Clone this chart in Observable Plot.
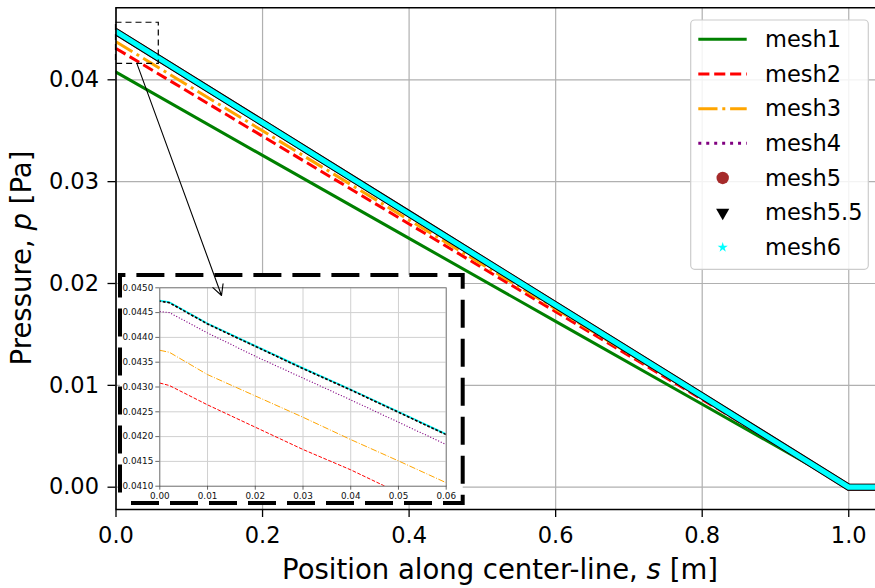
<!DOCTYPE html>
<html>
<head>
<meta charset="utf-8">
<script src="https://cdn.jsdelivr.net/npm/d3@7"></script>
<script src="https://cdn.jsdelivr.net/npm/@observablehq/plot@0.6"></script>
<style>
  html, body { margin: 0; padding: 0; background: #fff; }
  #chart { width: 875px; height: 588px; position: relative; }
</style>
</head>
<body>
<div id="chart"></div>
<script>
// ---------------- data ----------------
const seriesNames  = ["mesh1", "mesh2", "mesh3", "mesh4", "mesh5", "mesh5.5", "mesh6"];
const seriesColors = ["#008000", "#ff0000", "#ffa500", "#800080", "#a52a2a", "#000000", "#00ffff"];

// main plot: position along center-line s [m] and pressure p [Pa]
const sMain      = [0, 0.2, 0.4, 0.6, 0.8, 1.0, 1.04];
const mesh1Main  = [0.04075, 0.03258, 0.02443, 0.01628, 0.00814, 0, 0];
const mesh2Main  = [0.04308, 0.03446, 0.02585, 0.01723, 0.00862, 0, 0];
const mesh3Main  = [0.04374, 0.03499, 0.02624, 0.01750, 0.00875, 0, 0];
const mesh4Main  = [0.04452, 0.03562, 0.02671, 0.01781, 0.00890, 0, 0];
const mesh5Main  = [0.04473, 0.03578, 0.02684, 0.01789, 0.00895, 0, 0];
const mesh55Main = [0.04473, 0.03578, 0.02684, 0.01789, 0.00895, 0, 0];
const mesh6Main  = [0.04473, 0.03578, 0.02684, 0.01789, 0.00895, 0, 0];

// inset (zoom on 0 <= s <= 0.06)
const sInset      = [0, 0.002, 0.01, 0.02, 0.03, 0.04, 0.05, 0.06];
const mesh1Inset  = [0.04075, 0.04067, 0.04034, 0.03993, 0.03952, 0.03912, 0.03871, 0.03830];
const mesh2Inset  = [0.04308, 0.04303, 0.04264, 0.04219, 0.04174, 0.04133, 0.04087, 0.04042];
const mesh3Inset  = [0.04374, 0.04370, 0.04325, 0.04282, 0.04239, 0.04194, 0.04151, 0.04107];
const mesh4Inset  = [0.04452, 0.04450, 0.04409, 0.04362, 0.04318, 0.04274, 0.04229, 0.04184];
const mesh5Inset  = [0.04473, 0.04470, 0.04427, 0.04382, 0.04337, 0.04294, 0.04249, 0.04204];
const mesh55Inset = [0.04473, 0.04470, 0.04427, 0.04382, 0.04337, 0.04294, 0.04249, 0.04204];
const mesh6Inset  = [0.04474, 0.04471, 0.04428, 0.04383, 0.04338, 0.04295, 0.04250, 0.04205];

// ticks
const xTicksMain  = [0, 0.2, 0.4, 0.6, 0.8, 1.0];
const yTicksMain  = [0, 0.01, 0.02, 0.03, 0.04];
const xTicksInset = [0, 0.01, 0.02, 0.03, 0.04, 0.05, 0.06];
const yTicksInset = [0.041, 0.0415, 0.042, 0.0425, 0.043, 0.0435, 0.044, 0.0445, 0.045];

// annotation (in data units of the main plot)
const zoomBoxS = [0, 0.0584];
const zoomBoxP = [0.04157, 0.0456];
const arrowS = [0.0287, 0.144];
const arrowP = [0.04157, 0.01882];

// ---------------- helpers ----------------
const FONT = "DejaVu Sans";
const rows = (s, p, name) => s.map((x, i) => ({s: x, p: p[i], series: name}));
const mainSets  = [mesh1Main, mesh2Main, mesh3Main, mesh4Main, mesh5Main, mesh55Main, mesh6Main];
const insetSets = [mesh1Inset, mesh2Inset, mesh3Inset, mesh4Inset, mesh5Inset, mesh55Inset, mesh6Inset];
const mainData  = mainSets.map((arr, i) => rows(sMain, arr, seriesNames[i]));
const insetData = insetSets.map((arr, i) => rows(sInset, arr, seriesNames[i]));

// ---------------- main plot ----------------
const mainX = [0, 1.0365];
const mainY = [-0.00219, 0.04707];

const main = Plot.plot({
  width: 875,
  height: 588,
  marginLeft: 115.5,
  marginRight: 0,
  marginTop: 7.3,
  marginBottom: 79,
  style: {fontFamily: FONT, background: "white", color: "black"},
  x: {domain: mainX},
  y: {domain: mainY},
  marks: [
    Plot.gridX(xTicksMain, {stroke: "#b0b0b0", strokeOpacity: 1, strokeWidth: 1.2}),
    Plot.gridY(yTicksMain, {stroke: "#b0b0b0", strokeOpacity: 1, strokeWidth: 1.2}),
    Plot.line(mainData[0], {x: "s", y: "p", stroke: seriesColors[0], strokeWidth: 3, clip: true}),
    Plot.line(mainData[1], {x: "s", y: "p", stroke: seriesColors[1], strokeWidth: 3, strokeDasharray: "11.1,4.8", strokeLinecap: "butt", clip: true}),
    Plot.line(mainData[2], {x: "s", y: "p", stroke: seriesColors[2], strokeWidth: 3, strokeDasharray: "19.2,4.8,3,4.8", strokeLinecap: "butt", clip: true}),
    Plot.line(mainData[3], {x: "s", y: "p", stroke: seriesColors[3], strokeWidth: 3, strokeDasharray: "3,4.95", strokeLinecap: "butt", clip: true}),
    Plot.line(mainData[4], {x: "s", y: "p", stroke: seriesColors[4], strokeWidth: 7, clip: true}),
    Plot.line(mainData[5], {x: "s", y: "p", stroke: seriesColors[5], strokeWidth: 7, clip: true}),
    Plot.line(mainData[6], {x: "s", y: "p", stroke: seriesColors[6], strokeWidth: 5.2, clip: true}),
    Plot.rect([0], {x1: () => zoomBoxS[0], x2: () => zoomBoxS[1], y1: () => zoomBoxP[0], y2: () => zoomBoxP[1],
      fill: "none", stroke: "black", strokeWidth: 1.2, strokeDasharray: "6,4"}),
    Plot.arrow([0], {x1: () => arrowS[0], y1: () => arrowP[0], x2: () => arrowS[1], y2: () => arrowP[1],
      stroke: "black", strokeWidth: 1.1, headLength: 16, headAngle: 55}),
    Plot.ruleX([mainX[0]], {stroke: "black", strokeWidth: 1.6}),
    Plot.ruleY([mainY[0]], {stroke: "black", strokeWidth: 1.6}),
    Plot.ruleY([mainY[1]], {stroke: "black", strokeWidth: 1.6}),
    Plot.axisX({ticks: xTicksMain, tickFormat: d3.format(".1f"), tickSize: 8, tickPadding: 9.5,
      fontSize: 22.5, label: null, strokeWidth: 1.3, fill: "black"}),
    Plot.axisY({ticks: yTicksMain, tickFormat: d3.format(".2f"), tickSize: 8, tickPadding: 9,
      fontSize: 22.5, label: null, strokeWidth: 1.3, fill: "black"})
  ]
});

// ---------------- inset plot ----------------
const insetX = [0, 0.06];
const insetY = [0.041, 0.045];
const inset = Plot.plot({
  width: 350,
  height: 236,
  marginLeft: 43.3,
  marginRight: 20.3,
  marginTop: 16.3,
  marginBottom: 21.3,
  style: {fontFamily: FONT, color: "black"},
  x: {domain: insetX},
  y: {domain: insetY},
  marks: [
    Plot.gridX(xTicksInset, {stroke: "#d0d0d0", strokeOpacity: 1, strokeWidth: 1}),
    Plot.gridY(yTicksInset, {stroke: "#d0d0d0", strokeOpacity: 1, strokeWidth: 1}),
    Plot.line(insetData[0], {x: "s", y: "p", stroke: seriesColors[0], strokeWidth: 1.2, clip: true}),
    Plot.line(insetData[1], {x: "s", y: "p", stroke: seriesColors[1], strokeWidth: 1, strokeDasharray: "3.7,1.6", strokeLinecap: "butt", clip: true}),
    Plot.line(insetData[2], {x: "s", y: "p", stroke: seriesColors[2], strokeWidth: 1, strokeDasharray: "6.4,1.6,1,1.6", strokeLinecap: "butt", clip: true}),
    Plot.line(insetData[3], {x: "s", y: "p", stroke: seriesColors[3], strokeWidth: 1.1, strokeDasharray: "1.1,1.8", strokeLinecap: "butt", clip: true}),
    Plot.line(insetData[6], {x: "s", y: "p", stroke: seriesColors[6], strokeWidth: 1.8, clip: true}),
    Plot.line(insetData[4], {x: "s", y: "p", stroke: seriesColors[4], strokeWidth: 1.5, strokeDasharray: "1.5,3", strokeLinecap: "butt", clip: true}),
    Plot.line(insetData[5], {x: "s", y: "p", stroke: seriesColors[5], strokeWidth: 1.5, strokeDasharray: "2.5,2", strokeDashoffset: 1.5, strokeLinecap: "butt", clip: true}),
    Plot.frame({stroke: "#666", strokeWidth: 0.8}),
    Plot.axisX({ticks: xTicksInset, tickFormat: d3.format(".2f"), tickSize: 4, tickPadding: 3,
      fontSize: 8.8, label: null, stroke: "#444", strokeWidth: 0.8, fill: "#111"}),
    Plot.axisY({ticks: yTicksInset, tickFormat: d3.format(".4f"), tickSize: 4, tickPadding: 2.5,
      fontSize: 8.8, label: null, stroke: "#444", strokeWidth: 0.8, fill: "#111"})
  ]
});

// move inset contents into a translated group inside the main svg (below the arrow)
const NS = "http://www.w3.org/2000/svg";
const insetG = document.createElementNS(NS, "g");
insetG.setAttribute("transform", "translate(116,271)");
for (const a of ["class", "fill", "font-family", "font-size", "text-anchor", "style"]) {
  const v = inset.getAttribute(a);
  if (v != null) insetG.setAttribute(a, v);
}
// white background with thick dashed border
const bx0 = 4, bx1 = 346.7, by0 = 4, by1 = 232;
const bg = document.createElementNS(NS, "path");
bg.setAttribute("d", `M${bx0},${by1}L${bx1},${by1}L${bx1},${by0}L${bx0},${by0}Z`);
bg.setAttribute("fill", "white");
bg.setAttribute("stroke", "black");
bg.setAttribute("stroke-width", "4");
bg.setAttribute("stroke-dasharray", "28,11");
bg.setAttribute("stroke-dashoffset", "-11");
insetG.appendChild(bg);
while (inset.firstChild) insetG.appendChild(inset.firstChild);
const arrowNode = main.querySelector('[aria-label="arrow"]');
if (arrowNode) main.insertBefore(insetG, arrowNode); else main.appendChild(insetG);

// ---------------- axis labels ----------------
const svg = d3.select(main);
const xl = svg.append("text")
  .attr("x", 500).attr("y", 579.3)
  .attr("text-anchor", "middle").attr("font-family", FONT).attr("font-size", 27.5).attr("fill", "black");
xl.append("tspan").text("Position along center-line, ");
xl.append("tspan").attr("font-style", "italic").text("s");
xl.append("tspan").text(" [m]");

const yl = svg.append("text")
  .attr("transform", "translate(30.5,258) rotate(-90)")
  .attr("text-anchor", "middle").attr("font-family", FONT).attr("font-size", 27.5).attr("fill", "black");
yl.append("tspan").text("Pressure, ");
yl.append("tspan").attr("font-style", "italic").text("p");
yl.append("tspan").text(" [Pa]");

// ---------------- legend ----------------
const lg = svg.append("g").attr("font-family", FONT).attr("font-size", 22.5).attr("text-anchor", "start");
lg.append("rect")
  .attr("x", 690.7).attr("y", 20).attr("width", 177.6).attr("height", 249.3).attr("rx", 4)
  .attr("fill", "white").attr("fill-opacity", 0.85).attr("stroke", "#cccccc").attr("stroke-width", 1.2);
const lineStyles = [null, "11.1,4.8", "19.2,4.8,3,4.8", "3,4.95"];
seriesNames.forEach((name, i) => {
  const cy = 39.3 + i * 34.67;
  const x0 = 698.3, x1 = 746.7, xm = 722.7;
  if (i < 4) {
    const l = lg.append("line").attr("x1", x0).attr("x2", x1).attr("y1", cy).attr("y2", cy)
      .attr("stroke", seriesColors[i]).attr("stroke-width", 3);
    if (lineStyles[i]) l.attr("stroke-dasharray", lineStyles[i]);
  } else if (i === 4) {
    lg.append("circle").attr("cx", xm).attr("cy", cy).attr("r", 6.2).attr("fill", seriesColors[i]);
  } else if (i === 5) {
    lg.append("path").attr("d", d3.symbol(d3.symbolTriangle, 75)())
      .attr("transform", `translate(${xm},${cy}) rotate(180)`).attr("fill", seriesColors[i]);
  } else {
    lg.append("path").attr("d", d3.symbol(d3.symbolStar, 32)())
      .attr("transform", `translate(${xm},${cy})`).attr("fill", seriesColors[i]);
  }
  lg.append("text").attr("x", 765).attr("y", cy + 7.8).attr("text-anchor", "start").attr("fill", "black").text(name);
});

document.getElementById("chart").appendChild(main);
</script>
</body>
</html>
